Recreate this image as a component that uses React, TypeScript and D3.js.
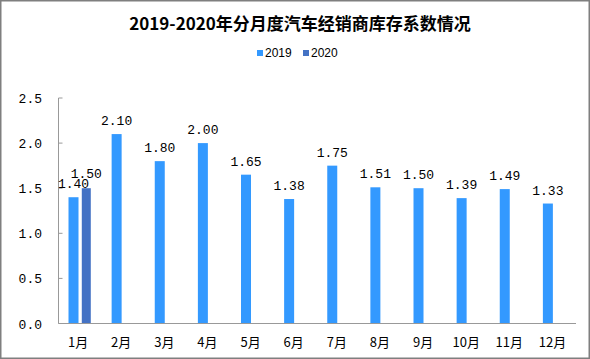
import React from "react";
import * as d3 from "d3";

const categories = ["1月", "2月", "3月", "4月", "5月", "6月", "7月", "8月", "9月", "10月", "11月", "12月"];
const values2019 = [1.4, 2.1, 1.8, 2.0, 1.65, 1.38, 1.75, 1.51, 1.5, 1.39, 1.49, 1.33];
const values2020: (number | null)[] = [1.5, null, null, null, null, null, null, null, null, null, null, null];
const yTicks = [0, 0.5, 1.0, 1.5, 2.0, 2.5];
const seriesNames = ["2019", "2020"];
const colors = ["#3399FF", "#4472C4"];
const title = "2019-2020年分月度汽车经销商库存系数情况";

export default function App() {
  const W = 590, H = 359;
  const left = 58.5, right = 576, top = 98, bottom = 323.5;
  const x = d3.scaleBand<string>().domain(categories).range([left, right]).paddingInner(0).paddingOuter(0);
  const y = d3.scaleLinear().domain([0, 2.5]).range([bottom, top]);
  const bw = x.bandwidth();
  const barW = 10;
  const off2019 = bw * 0.232;
  const off2020 = bw * 0.54;
  const monoFont = "'Liberation Mono', 'DejaVu Sans Mono', monospace";

  return (
    <svg width={W} height={H} style={{ position: "absolute", left: 0, top: 0, background: "#fff" }} fontFamily="'Liberation Sans', Arial, sans-serif">
      <rect x={0.75} y={0.75} width={W - 1.5} height={H - 1.5} fill="#fff" stroke="#7f7f7f" strokeWidth={1.5} />
      <text x={300} y={30} textAnchor="middle" fontSize={17} fontWeight="bold" fontFamily="'Noto Sans CJK SC', serif" fill="#000">{title}</text>
      {/* legend */}
      {seriesNames.map((s, i) => (
        <g key={s} transform={`translate(${257 + i * 46},50)`}>
          <rect x={0} y={0} width={6} height={6} fill={colors[i]} />
          <text x={8} y={7} fontSize={12} fill="#000">{s}</text>
        </g>
      ))}
      {/* y axis */}
      <line x1={left} x2={left} y1={top} y2={bottom} stroke="#999" strokeWidth={1} />
      {yTicks.map((t) => (
        <g key={t}>
          <line x1={left} x2={left + 4} y1={y(t)} y2={y(t)} stroke="#999" />
          <text x={42} y={y(t) + 5} textAnchor="end" fontSize={13} fontFamily={monoFont} fill="#000">{t.toFixed(1)}</text>
        </g>
      ))}
      {/* bars */}
      {categories.map((c, i) => {
        const x0 = x(c)!;
        const v1 = values2019[i];
        const v2 = values2020[i];
        return (
          <g key={c}>
            <rect x={x0 + off2019} y={y(v1)} width={barW} height={bottom - y(v1)} fill={colors[0]} />
            <text x={x0 + off2019 + barW / 2} y={y(v1) - 9} textAnchor="middle" fontSize={13} fontFamily={monoFont} fill="#000">{v1.toFixed(2)}</text>
            {v2 != null && (
              <>
                <rect x={x0 + off2020} y={y(v2)} width={9} height={bottom - y(v2)} fill={colors[1]} />
                <text x={x0 + off2020 + 4.5} y={y(v2) - 10} textAnchor="middle" fontSize={13} fontFamily={monoFont} fill="#000">{v2.toFixed(2)}</text>
              </>
            )}
            <text x={x0 + bw / 2 - 2} y={347} textAnchor="middle" fontSize={13} fontFamily="'Noto Sans CJK SC', sans-serif" fill="#000">{c}</text>
          </g>
        );
      })}
      {/* x axis */}
      <line x1={left} x2={right} y1={bottom} y2={bottom} stroke="#999" strokeWidth={1} />
    </svg>
  );
}
